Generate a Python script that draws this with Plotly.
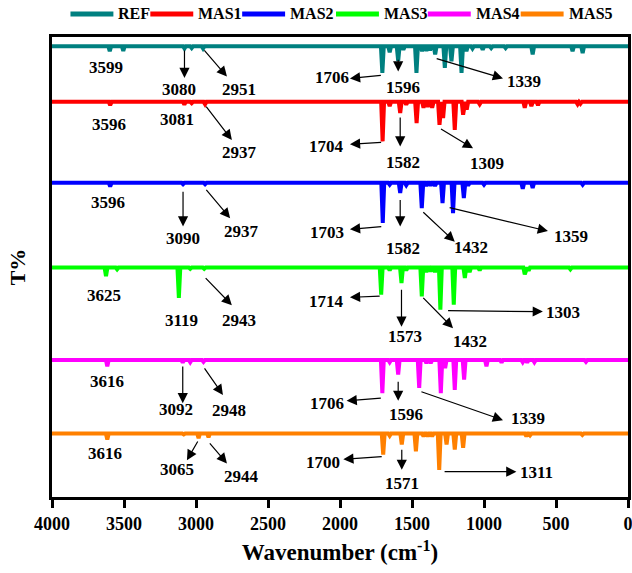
import plotly.graph_objects as go

# FTIR spectra, stacked with a vertical offset per sample
samples = ["REF", "MAS1", "MAS2", "MAS3", "MAS4", "MAS5"]
line_colors = ["#008080", "#FF0000", "#0000FF", "#00FF00", "#FF00FF", "#FF8000"]
baselines = [98.0, 85.9, 68.3, 49.9, 29.8, 13.8]

# absorption bands: wavenumber (cm-1) and transmittance level at the band minimum
ref_wn = [3599, 3505, 3080, 3030, 2951, 1706, 1655, 1596, 1560, 1469, 1430, 1400, 1375, 1339,
          1272, 1226, 1156, 1122, 1080, 1009, 950, 850, 662, 385, 315]
ref_t = [96.9, 97.0, 97.5, 97.6, 97.5, 92.2, 96.7, 94.8, 97.2, 92.2, 96.9, 97.0, 97.1, 96.2,
         93.3, 94.7, 92.2, 96.9, 97.5, 97.2, 97.6, 97.6, 96.2, 96.9, 96.5]

mas1_wn = [3596, 3081, 3030, 2937, 1704, 1655, 1582, 1540, 1468, 1420, 1390, 1360, 1309, 1284,
           1203, 1145, 1120, 1030, 717, 671, 625, 350, 330]
mas1_t = [85.2, 85.3, 85.6, 85.4, 77.3, 85.0, 83.5, 85.3, 81.3, 84.6, 84.8, 84.6, 80.9, 82.4,
          79.8, 83.1, 84.2, 85.4, 84.6, 85.0, 85.2, 85.4, 85.5]

mas2_wn = [3596, 3090, 3030, 2937, 1703, 1655, 1582, 1540, 1432, 1400, 1370, 1340, 1288,
           1215, 1140, 1110, 1000, 731, 662, 315]
mas2_t = [67.5, 68.0, 68.1, 68.0, 59.6, 67.9, 66.1, 67.8, 62.8, 67.6, 67.7, 67.6, 63.9,
          61.7, 65.0, 67.7, 67.9, 67.0, 67.2, 67.9]

mas3_wn = [3625, 3548, 3119, 3040, 2943, 1714, 1655, 1573, 1540, 1432, 1400, 1370, 1340, 1303,
           1210, 1133, 1100, 1030, 717, 690, 400]
mas3_t = [48.0, 49.5, 43.3, 49.6, 49.6, 44.0, 49.3, 46.5, 49.3, 43.6, 48.9, 49.0, 48.9, 40.7,
          41.8, 47.6, 48.9, 49.3, 48.4, 49.2, 49.5]

mas4_wn = [3616, 3092, 3040, 2948, 1706, 1655, 1596, 1450, 1400, 1370, 1300, 1270, 1203, 1138,
           983, 878, 731, 700, 650, 292]
mas4_t = [28.4, 29.2, 29.3, 29.4, 22.6, 29.3, 26.6, 23.7, 29.1, 29.1, 22.6, 28.0, 23.3, 25.5,
          28.4, 29.2, 29.3, 29.2, 29.3, 29.4]

mas5_wn = [3616, 3085, 2982, 2913, 1700, 1655, 1571, 1473, 1420, 1390, 1360, 1311, 1260, 1203,
           1145, 706, 680, 317]
mas5_t = [12.5, 13.6, 12.8, 13.0, 9.2, 13.3, 11.4, 9.9, 13.2, 13.2, 13.2, 5.9, 11.4, 10.3,
          10.7, 13.2, 13.4, 13.5]

band_wn = [ref_wn, mas1_wn, mas2_wn, mas3_wn, mas4_wn, mas5_wn]
band_t = [ref_t, mas1_t, mas2_t, mas3_t, mas4_t, mas5_t]

# peak labels: (text, x, y) and arrows: (tail x, tail y, head x, head y)
peak_labels = [
    [("3599", 3622, 93.3), ("3080", 3116, 88.6), ("2951", 2700, 88.6), ("1706", 2058, 91.2),
     ("1596", 1566, 89.1), ("1339", 724, 90.3)],
    [("3596", 3601, 81.0), ("3081", 3132, 82.0), ("2937", 2700, 74.8), ("1704", 2092, 76.3),
     ("1582", 1560, 72.7), ("1309", 979, 72.5)],
    [("3596", 3613, 64.0), ("3090", 3093, 56.2), ("2937", 2681, 57.7), ("1703", 2087, 57.5),
     ("1582", 1560, 54.1), ("1432", 1087, 54.3), ("1359", 394, 56.6)],
    [("3625", 3640, 43.9), ("3119", 3098, 38.3), ("2943", 2700, 38.3), ("1714", 2092, 42.6),
     ("1573", 1550, 34.8), ("1432", 1099, 33.9), ("1303", 452, 40.1)],
    [("3616", 3617, 25.1), ("3092", 3139, 19.1), ("2948", 2774, 18.9), ("1706", 2087, 20.4),
     ("1596", 1543, 18.0), ("1339", 695, 17.0)],
    [("3616", 3629, 9.5), ("3065", 3132, 5.9), ("2944", 2681, 4.4), ("1700", 2116, 7.5),
     ("1571", 1572, 3.0), ("1311", 636, 5.3)],
]
peak_arrows = [
    [(3080, 97.4, 3080, 91.1), (2951, 97.4, 2785, 91.4), (1706, 91.7, 1931, 91.0),
     (1596, 95.4, 1596, 92.5), (1339, 95.4, 868, 91.0)],
    [(2937, 85.2, 2751, 77.6), (1704, 77.1, 1931, 76.7), (1582, 82.8, 1582, 76.2),
     (1309, 80.2, 1076, 75.8)],
    [(3090, 66.7, 3090, 58.8), (2937, 67.1, 2763, 60.6), (1703, 58.8, 1931, 58.2),
     (1582, 64.9, 1582, 58.8), (1432, 62.2, 1203, 55.5), (1249, 63.0, 556, 57.8)],
    [(2943, 47.9, 2751, 41.7), (1714, 43.7, 1931, 43.4), (1573, 45.4, 1573, 37.0),
     (1432, 43.6, 1215, 36.7), (1260, 40.5, 591, 40.3)],
    [(3092, 28.7, 3092, 20.4), (2948, 28.3, 2813, 22.2), (1706, 21.5, 1954, 20.9),
     (1596, 25.4, 1596, 20.9), (1445, 23.0, 868, 16.7)],
    [(2982, 12.4, 3063, 8.0), (2913, 12.0, 2785, 7.3), (1700, 8.8, 1977, 8.2),
     (1571, 10.6, 1571, 5.9), (1284, 5.5, 775, 5.5)],
]

x_ticks = [0, 500, 1000, 1500, 2000, 2500, 3000, 3500, 4000]

FONT = "Liberation Serif, Times New Roman, serif"

# page geometry (px) of the plotting area, used to place the key strip above it
W, H = 632, 573
M_L, M_R, M_T, M_B = 51.5, 3.5, 37, 76
PLOT_W, PLOT_H = W - M_L - M_R, H - M_T - M_B
key_row_px = 14
key_entry_px = [70, 150, 242, 336, 428, 521]  # left end of each key swatch
key_swatch_len = 43
key_text_gap = 4


def paper_x(px):
    return (px - M_L) / PLOT_W


def paper_y(py):
    return (H - M_B - py) / PLOT_H


def spectrum(base, wns, ts, half_width=10):
    """Polyline of a flat baseline with a sharp dip at each band."""
    bands = sorted(zip(wns, ts), reverse=True)
    xs, ys = [4000], [base]
    for i, (w, t) in enumerate(bands):
        gap_hi = bands[i - 1][0] - w if i > 0 else 1e9
        gap_lo = w - bands[i + 1][0] if i < len(bands) - 1 else 1e9
        h = min(half_width, gap_hi / 2, gap_lo / 2)
        xs += [w + h, w, w - h]
        ys += [base, t, base]
    xs.append(0)
    ys.append(base)
    return xs, ys


fig = go.Figure()
for name, color, base, wns, ts in zip(samples, line_colors, baselines, band_wn, band_t):
    xs, ys = spectrum(base, wns, ts)
    fig.add_trace(go.Scatter(x=xs, y=ys, mode="lines", name=name, showlegend=False,
                             line=dict(color=color, width=4)))

# horizontal key above the frame: coloured swatch followed by the sample name
for name, color, x0 in zip(samples, line_colors, key_entry_px):
    fig.add_shape(type="line", xref="paper", yref="paper",
                  x0=paper_x(x0), x1=paper_x(x0 + key_swatch_len),
                  y0=paper_y(key_row_px), y1=paper_y(key_row_px),
                  line=dict(color=color, width=5))
    fig.add_annotation(xref="paper", yref="paper", x=paper_x(x0 + key_swatch_len + key_text_gap),
                       y=paper_y(key_row_px), xanchor="left", yanchor="middle", text=name,
                       showarrow=False, borderpad=0,
                       font=dict(family=FONT, size=16, color="black", weight="bold"))

for labels, arrows in zip(peak_labels, peak_arrows):
    for tx, ty, hx, hy in arrows:
        fig.add_annotation(x=hx, y=hy, ax=tx, ay=ty, xref="x", yref="y", axref="x", ayref="y",
                           text="", showarrow=True, arrowhead=2, arrowsize=1.7,
                           arrowwidth=1.2, arrowcolor="black", standoff=0, startstandoff=0)
    for text, lx, ly in labels:
        fig.add_annotation(x=lx, y=ly, xref="x", yref="y", text=text, showarrow=False,
                           font=dict(family=FONT, size=17, color="black", weight="bold"))

fig.update_layout(
    width=W, height=H,
    margin=dict(l=M_L, r=M_R, t=M_T, b=M_B, autoexpand=False),
    paper_bgcolor="white", plot_bgcolor="white",
    font=dict(family=FONT, size=17, color="black", weight="bold"),
    showlegend=False,
)
fig.update_xaxes(range=[4000, 0], tickvals=x_ticks, ticks="outside", ticklen=8, tickwidth=2.5,
                 tickcolor="black", showline=True, linewidth=3, linecolor="black", mirror=True,
                 showgrid=False, zeroline=False, ticklabeloverflow="allow",
                 tickfont=dict(family=FONT, size=18, color="black", weight="bold"),
                 title=dict(text="Wavenumber (cm<sup>-1</sup>)", standoff=12,
                            font=dict(family=FONT, size=23, color="black", weight="bold")))
fig.update_yaxes(range=[0, 100], showticklabels=False, ticks="", showline=True, linewidth=3,
                 linecolor="black", mirror=True, showgrid=False, zeroline=False,
                 title=dict(text="T%", standoff=18,
                            font=dict(family=FONT, size=22, color="black", weight="bold")))

fig.write_html("out.html")
